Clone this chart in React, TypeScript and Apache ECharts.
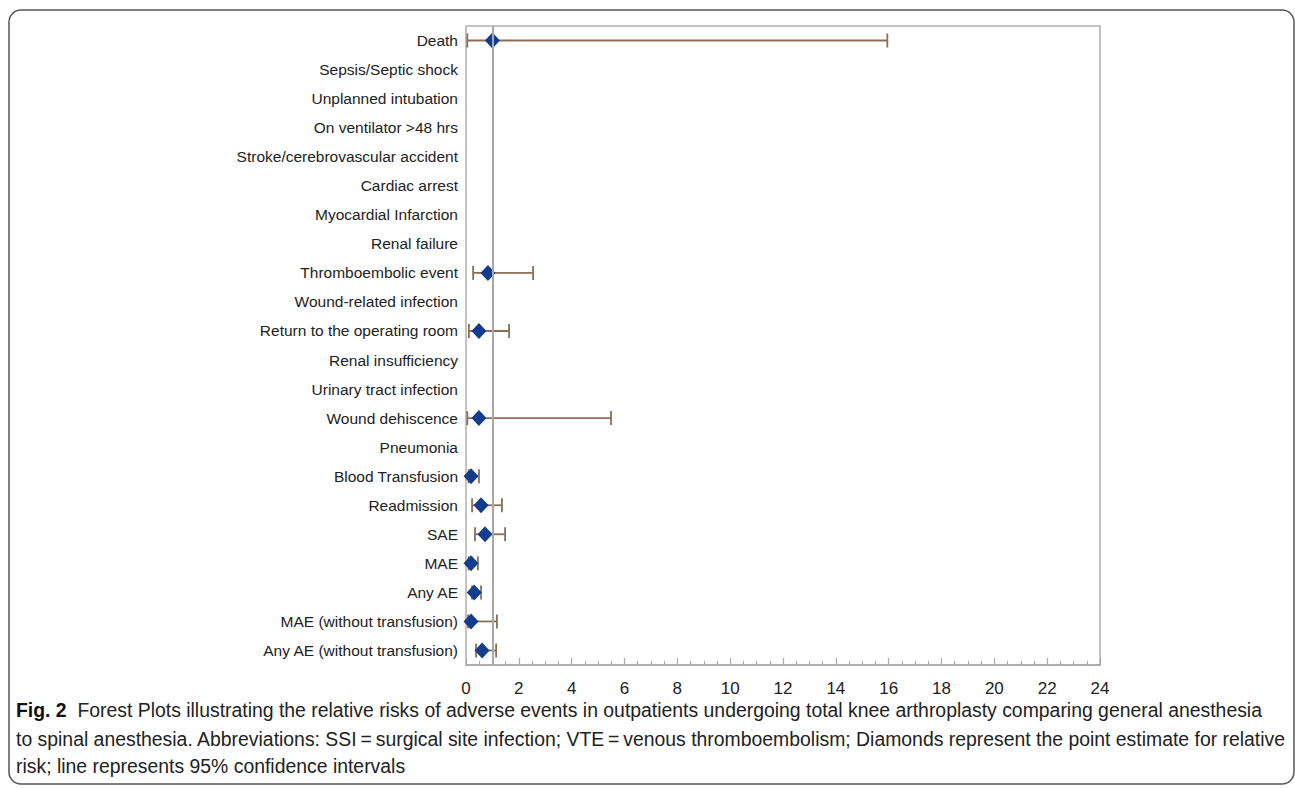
import React, { useEffect, useRef } from "react";
import * as echarts from "echarts";

const categories = [
  "Death",
  "Sepsis/Septic shock",
  "Unplanned intubation",
  "On ventilator >48 hrs",
  "Stroke/cerebrovascular accident",
  "Cardiac arrest",
  "Myocardial Infarction",
  "Renal failure",
  "Thromboembolic event",
  "Wound-related infection",
  "Return to the operating room",
  "Renal insufficiency",
  "Urinary tract infection",
  "Wound dehiscence",
  "Pneumonia",
  "Blood Transfusion",
  "Readmission",
  "SAE",
  "MAE",
  "Any AE",
  "MAE (without transfusion)",
  "Any AE (without transfusion)",
];

const estimates: (number | null)[] = [
  1.0, null, null, null, null, null, null, null, 0.83, null, 0.49, null, null,
  0.49, null, 0.19, 0.57, 0.72, 0.19, 0.31, 0.19, 0.61,
];
const lowers: (number | null)[] = [
  0.05, null, null, null, null, null, null, null, 0.27, null, 0.11, null, null,
  0.05, null, 0.1, 0.23, 0.34, 0.1, 0.23, 0.08, 0.38,
];
const uppers: (number | null)[] = [
  15.95, null, null, null, null, null, null, null, 2.54, null, 1.63, null, null,
  5.49, null, 0.49, 1.36, 1.48, 0.45, 0.57, 1.17, 1.14,
];

const xTicks = { min: 0, max: 24, interval: 2 };
const referenceValue = 1;

const captionLines = [
  "Forest Plots illustrating the relative risks of adverse events in outpatients undergoing total knee arthroplasty comparing general anesthesia",
  "to spinal anesthesia. Abbreviations: SSI\u2009=\u2009surgical site infection; VTE\u2009=\u2009venous thromboembolism; Diamonds represent the point estimate for relative",
  "risk; line represents 95% confidence intervals",
];

export default function App() {
  const ref = useRef<HTMLDivElement>(null);
  useEffect(() => {
    if (!ref.current) return;
    const chart = echarts.init(ref.current, undefined, { renderer: "svg" });

    const ciData = categories
      .map((c, i) =>
        lowers[i] != null && uppers[i] != null ? [lowers[i], uppers[i], c] : null
      )
      .filter((d) => d !== null);
    const pointData = categories
      .map((c, i) => (estimates[i] != null ? [estimates[i], c] : null))
      .filter((d) => d !== null);

    const capHalf = 7;
    const ciColor = "#8c6d58";
    const capFont = "Liberation Sans, Arial, sans-serif";
    const capSize = 19.4;

    chart.setOption({
      animation: false,
      backgroundColor: "#ffffff",
      grid: {
        left: 466,
        right: 195,
        top: 26,
        bottom: 124,
        show: true,
        borderColor: "#b0b0b0",
        borderWidth: 1.5,
        backgroundColor: "transparent",
      },
      xAxis: {
        type: "value",
        min: xTicks.min,
        max: xTicks.max,
        interval: xTicks.interval,
        axisLine: { show: true, lineStyle: { color: "#a8a8a8", width: 1.5 } },
        axisTick: {
          show: true,
          inside: true,
          length: 7,
          lineStyle: { color: "#a8a8a8", width: 1.2 },
        },
        minorTick: {
          show: true,
          splitNumber: 4,
          length: 4,
          lineStyle: { color: "#a8a8a8", width: 1 },
        },
        splitLine: { show: false },
        axisLabel: {
          color: "#222",
          fontSize: 17,
          fontFamily: "Liberation Sans, Arial, sans-serif",
          margin: 15,
        },
      },
      yAxis: {
        type: "category",
        data: categories,
        inverse: true,
        axisLine: { show: false },
        axisTick: { show: false },
        splitLine: { show: false },
        axisLabel: {
          color: "#222",
          fontSize: 15.5,
          fontFamily: "Liberation Sans, Arial, sans-serif",
          margin: 8,
        },
      },
      series: [
        {
          type: "custom",
          name: "CI",
          data: ciData,
          encode: { x: [0, 1], y: 2 },
          renderItem: (params: any, api: any) => {
            const lo = api.coord([api.value(0), api.value(2)]);
            const hi = api.coord([api.value(1), api.value(2)]);
            const style = { stroke: ciColor, lineWidth: 1.8, fill: "none" };
            return {
              type: "group",
              children: [
                {
                  type: "line",
                  shape: { x1: lo[0], y1: lo[1], x2: hi[0], y2: hi[1] },
                  style,
                },
                {
                  type: "line",
                  shape: { x1: lo[0], y1: lo[1] - capHalf, x2: lo[0], y2: lo[1] + capHalf },
                  style,
                },
                {
                  type: "line",
                  shape: { x1: hi[0], y1: hi[1] - capHalf, x2: hi[0], y2: hi[1] + capHalf },
                  style,
                },
              ],
            };
          },
          z: 2,
        },
        {
          type: "scatter",
          name: "Estimate",
          data: pointData,
          symbol: "diamond",
          symbolSize: [15, 16],
          itemStyle: { color: "#133c8e", opacity: 1 },
          z: 4,
          markLine: {
            silent: true,
            symbol: "none",
            label: { show: false },
            lineStyle: { color: "#a8a8a8", width: 2, type: "solid" },
            data: [{ xAxis: referenceValue }],
          },
        },
      ],
      graphic: [
        {
          type: "rect",
          shape: { x: 9, y: 10, width: 1285, height: 774, r: 12 },
          style: { fill: "none", stroke: "#555", lineWidth: 1.5 },
          silent: true,
        },
        {
          type: "text",
          left: 16,
          top: 700,
          style: {
            text: "{b|Fig. 2}  " + captionLines[0],
            fill: "#222",
            fontSize: capSize,
            fontFamily: capFont,
            rich: {
              b: {
                fontWeight: "bold",
                fontSize: capSize,
                fill: "#111",
                fontFamily: capFont,
              },
            },
          },
        },
        {
          type: "text",
          left: 16,
          top: 729,
          style: {
            text: captionLines[1],
            fill: "#222",
            fontSize: capSize,
            fontFamily: capFont,
          },
        },
        {
          type: "text",
          left: 16,
          top: 756,
          style: {
            text: captionLines[2],
            fill: "#222",
            fontSize: capSize,
            fontFamily: capFont,
          },
        },
      ],
    });
    return () => chart.dispose();
  }, []);
  return (
    <div
      ref={ref}
      style={{ position: "fixed", left: 0, top: 0, width: 1295, height: 789 }}
    />
  );
}
